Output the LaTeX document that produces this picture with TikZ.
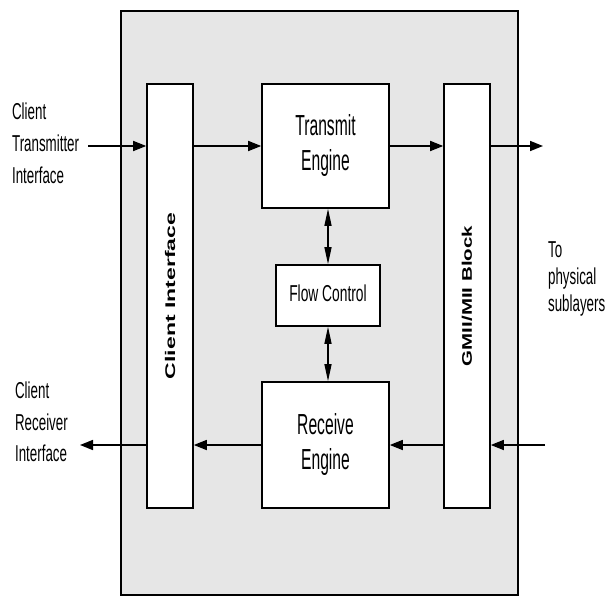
\documentclass[tikz,border=0pt]{standalone}
\usepackage{fontspec,graphicx}
\setmainfont{Liberation Sans}
\usetikzlibrary{arrows.meta}
\definecolor{MacGray}{HTML}{E6E6E6}
% squeezed text, as in the original drawing
\newcommand{\narrowtext}[2]{\scalebox{#1}[1]{\begin{tabular}{@{}c@{}}#2\end{tabular}}}
\newcommand{\bartext}[2]{\rotatebox{90}{\scalebox{1}[#1]{\bfseries #2}}}

\begin{document}
\begin{tikzpicture}[x=1pt, y=-1pt,
        box/.style={draw, line width=1.6pt, fill=white, inner sep=0pt},
        arr/.style={-{Triangle[length=13pt,width=10pt]}, line width=1.6pt},
        dbl/.style={{Triangle[length=17pt,width=7pt]}-{Triangle[length=17pt,width=7pt]}, line width=1.3pt},
        side/.style={align=left, inner sep=0pt, xscale=0.58, anchor=west}]
    \useasboundingbox (0,0) rectangle (610,596);
    \node[draw, line width=1.2pt, fill=MacGray, minimum width=397pt, minimum height=584pt] (mac) at (319.5,303) {};
    % blocks
    \node[box, minimum width=46pt, minimum height=424pt] (cif) at (170,296)
        {\fontsize{23}{28}\selectfont\bartext{0.61}{Client Interface}};
    \node[box, minimum width=46pt, minimum height=424pt] (gmii) at (467,296)
        {\fontsize{20.5}{25}\selectfont\bartext{0.68}{GMII/MII Block}};
    \node[box, minimum width=127pt, minimum height=124pt, font=\fontsize{29}{35}\selectfont] (tx) at (325.5,146)
        {\narrowtext{0.54}{Transmit\\Engine}};
    \node[box, minimum width=127pt, minimum height=126pt, font=\fontsize{29}{35}\selectfont] (rx) at (325.5,445)
        {\narrowtext{0.54}{Receive\\Engine}};
    \node[box, minimum width=104pt, minimum height=61pt, font=\fontsize{23}{28}\selectfont] (fc) at (328,295.5)
        {\narrowtext{0.6}{Flow Control}};
    % outside labels
    \node[side, font=\fontsize{23}{32}\selectfont] (txlabel) at (12,143) {Client\\Transmitter\\Interface};
    \node[side, font=\fontsize{23}{31.5}\selectfont] (rxlabel) at (15,422) {Client\\Receiver\\Interface};
    \node[side, font=\fontsize{23}{27}\selectfont] (phylabel) at (548,279) {To\\physical\\sublayers};
    \coordinate (tin) at (88,146);
    \coordinate (tout) at (543,146);
    \coordinate (rin) at (545,445);
    \coordinate (rout) at (80,445);
    % transmit path
    \draw[arr] (tin) -- (cif.west |- tin);
    \draw[arr] (cif.east |- tx.west) -- (tx.west);
    \draw[arr] (tx.east) -- (gmii.west |- tx.east);
    \draw[arr] (gmii.east |- tout) -- (tout);
    % receive path
    \draw[arr] (rin) -- (gmii.east |- rin);
    \draw[arr] (gmii.west |- rx.east) -- (rx.east);
    \draw[arr] (rx.west) -- (cif.east |- rx.west);
    \draw[arr] (cif.west |- rout) -- (rout);
    % flow control
    \draw[dbl] (fc.north |- tx.south) -- (fc.north);
    \draw[dbl] (fc.south) -- (fc.south |- rx.north);
\end{tikzpicture}
\end{document}
